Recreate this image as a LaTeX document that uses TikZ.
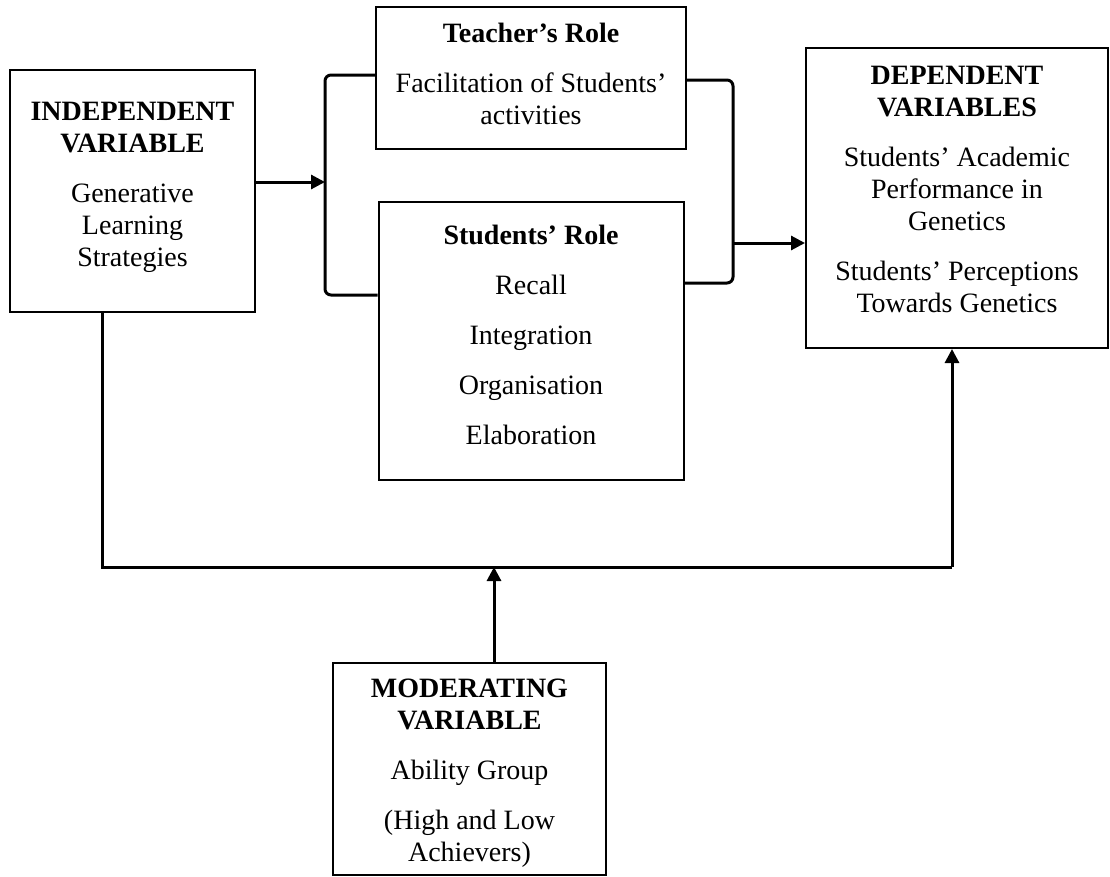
\documentclass[tikz,border=0pt]{standalone}
\usepackage{fontspec}
\setmainfont{Liberation Serif}
\usetikzlibrary{arrows.meta}
\tikzset{
  varbox/.style={draw, line width=2pt, inner sep=0pt},
  vartext/.style={align=center, inner sep=0pt, font=\fontsize{28}{32}\selectfont},
  conn/.style={line width=3pt},
  arr/.style={line width=3pt, -{Triangle[length=14pt,width=14pt]}},
}
\begin{document}
\begin{tikzpicture}[x=1pt,y=-1pt]
\useasboundingbox (0,0) rectangle (1110,876);

\node[varbox, minimum width=245pt, minimum height=242pt] (indep) at (132.5,191) {};
\node[vartext] (indeptext) at (132.5,187)
  {\textbf{INDEPENDENT}\\\textbf{VARIABLE}\\[18pt]Generative\\Learning\\Strategies};
\node[varbox, minimum width=310pt, minimum height=142pt] (teach) at (531,78) {};
\node[vartext] (teachtext) at (531,74)
  {\textbf{Teacher’s Role}\\[18pt]Facilitation of Students’\\activities};
\node[varbox, minimum width=305pt, minimum height=278pt] (stud) at (531,341) {};
\node[vartext] (studtext) at (531,335)
  {\textbf{Students’ Role}\\[18pt]Recall\\[18pt]Integration\\[18pt]Organisation\\[18pt]Elaboration};
\node[varbox, minimum width=302pt, minimum height=300pt] (dep) at (957,198) {};
\node[vartext] (deptext) at (957,189)
  {\textbf{DEPENDENT}\\\textbf{VARIABLES}\\[18pt]Students’ Academic\\Performance in\\Genetics\\[18pt]Students’ Perceptions\\Towards Genetics};
\node[varbox, minimum width=273pt, minimum height=212pt] (mod) at (469.5,769) {};
\node[vartext] (modtext) at (469.5,773)
  {\textbf{MODERATING}\\\textbf{VARIABLE}\\[18pt]Ability Group\\[18pt](High and Low\\Achievers)};

\coordinate (lb) at (325,182);
\coordinate (lbtop) at (325,75);
\coordinate (lbbot) at (325,295);
\coordinate (rb) at (733,243);
\coordinate (rbtop) at (733,80);
\coordinate (rbbot) at (733,283);
\coordinate (bl) at (102,567);
\coordinate (br) at (952,567);
\coordinate (bm) at (494,567);

\draw[arr] (indep.east |- lb) -- (lb);
\draw[conn, rounded corners=6pt] (teach.west |- lbtop) -- (lbtop) -- (lbbot) -- (stud.west |- lbbot);
\draw[conn, rounded corners=6pt] (teach.east |- rbtop) -- (rbtop) -- (rbbot) -- (stud.east |- rbbot);
\draw[arr] (rb) -- (dep.west |- rb);
\draw[conn] (indep.south -| bl) -- (bl) -- (br);
\draw[arr] (br) -- (dep.south -| br);
\draw[arr] (mod.north -| bm) -- (bm);
\end{tikzpicture}
\end{document}
